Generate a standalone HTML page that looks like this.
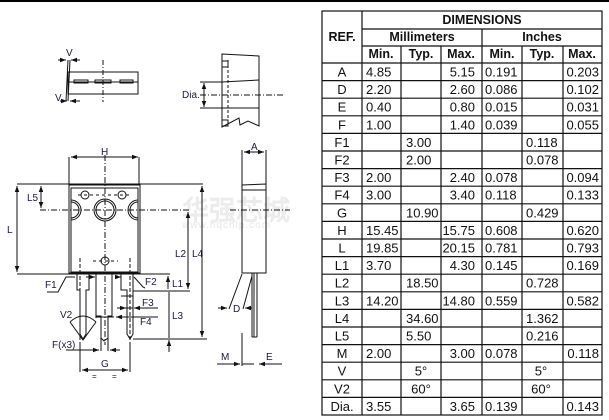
<!DOCTYPE html>
<html><head><meta charset="utf-8"><style>
html,body{margin:0;padding:0;background:#fff;}
svg{display:block}
text{font-family:"Liberation Sans",Arial,sans-serif;}
</style></head><body>
<svg width="609" height="420" viewBox="0 0 609 420" xmlns="http://www.w3.org/2000/svg">
<rect x="0" y="0" width="609" height="2" fill="#000"/>
<defs>
<marker id="ar" viewBox="0 0 8 6" refX="8" refY="3" markerWidth="6" markerHeight="5" orient="auto-start-reverse"><path d="M0,0 L8,3 L0,6 z" fill="#111"/></marker>
</defs>
<!-- watermark -->
<text x="182" y="220" font-size="27" font-weight="bold" fill="#ececec" font-family="'Noto Sans CJK SC',sans-serif">华强芯城</text>
<text x="182" y="228" font-size="10" fill="#e6e6e6" letter-spacing="1">www.hqchip.com</text>

<g stroke="#111" fill="none" stroke-width="1">
<!-- top-left lead frame view -->
<path d="M68,72 L138,72 L138,94 L68,94 Z"/>
<line x1="68" y1="82" x2="138" y2="82"/>
<rect x="74" y="80" width="14" height="3"/><rect x="95" y="80" width="16" height="3"/><rect x="120" y="80" width="13" height="3"/>
<line x1="68" y1="60" x2="66" y2="101"/><line x1="70" y1="60" x2="68" y2="101"/>
<line x1="103" y1="60" x2="103" y2="102" stroke-dasharray="5,2,1,2"/>
<line x1="58" y1="60" x2="66" y2="60" marker-end="url(#ar)"/><line x1="80" y1="60" x2="71" y2="60" marker-end="url(#ar)"/>
<line x1="60" y1="101" x2="67" y2="101" marker-end="url(#ar)"/><line x1="80" y1="101" x2="70" y2="101" marker-end="url(#ar)"/>
<!-- Dia view -->
<path d="M222,54 L259,56 L259,126 L248,121 L240,125 L239,118 L222,127 Z"/>
<line x1="222" y1="82" x2="259" y2="80"/><line x1="222" y1="108" x2="259" y2="108"/>
<line x1="228" y1="60" x2="228" y2="122" stroke-dasharray="3,2"/>
<rect x="222" y="61" width="6" height="6"/><rect x="222" y="120" width="6" height="6"/>
<line x1="200" y1="95" x2="283" y2="95" stroke-dasharray="6,2,1,2"/>
<line x1="200" y1="82" x2="222" y2="82"/><line x1="200" y1="108" x2="222" y2="108"/>
<line x1="204" y1="95" x2="204" y2="83" marker-end="url(#ar)"/><line x1="204" y1="95" x2="204" y2="107" marker-end="url(#ar)"/>
<!-- front body -->
<rect x="69" y="185" width="71" height="88"/>
<rect x="71" y="188" width="67" height="84"/>
<line x1="69" y1="157" x2="69" y2="185"/><line x1="139" y1="157" x2="139" y2="185"/>
<line x1="71" y1="157" x2="138" y2="157" marker-start="url(#ar)" marker-end="url(#ar)"/>
<line x1="17" y1="184" x2="203" y2="184"/>
<line x1="105" y1="155" x2="105" y2="345" stroke-dasharray="6,2,1,2"/>
<line x1="40" y1="210" x2="190" y2="210" stroke-dasharray="6,2,1,2"/>
<circle cx="105" cy="210" r="11"/><circle cx="105" cy="210" r="9"/>
<path d="M71,200 A10,10 0 0 1 71,220"/><path d="M71,202 A8,8 0 0 1 71,218"/>
<path d="M138,200 A10,10 0 0 0 138,220"/><path d="M138,202 A8,8 0 0 0 138,218"/>
<circle cx="85" cy="195" r="4"/><circle cx="122" cy="195" r="4"/><circle cx="105" cy="261" r="4"/>
<line x1="78" y1="195" x2="130" y2="195" stroke-dasharray="3,3"/>
<line x1="93" y1="261" x2="118" y2="261" stroke-dasharray="3,3"/>
<line x1="80" y1="258" x2="80" y2="340" stroke-dasharray="4,2"/><line x1="130" y1="258" x2="130" y2="340" stroke-dasharray="4,2"/>
<!-- L, L5 -->
<line x1="17" y1="186" x2="17" y2="272" marker-start="url(#ar)" marker-end="url(#ar)"/>
<line x1="17" y1="274" x2="170" y2="274"/>
<line x1="41" y1="186" x2="41" y2="208" marker-start="url(#ar)" marker-end="url(#ar)"/>
<!-- leads -->
<path d="M77,274 V290 H80 V334 L83,339 L86,334 V290 H89 V274"/>
<path d="M96,274 V316 H101 V338 L104,341 L108,338 V316 H112 V274"/>
<path d="M121,274 V290 H127 V334 L130,339 L133,334 V274"/>
<line x1="96" y1="274" x2="96" y2="318"/>
<line x1="121" y1="296" x2="133" y2="296"/><line x1="121" y1="308" x2="133" y2="308"/>
<line x1="101" y1="316" x2="101" y2="351"/><line x1="108" y1="316" x2="108" y2="351"/>
<!-- F1 F2 -->
<path d="M47,292 L58,292 L66,277 L75,277"/>
<line x1="86" y1="277" x2="95" y2="277" marker-end="url(#ar)"/>
<line x1="116" y1="277" x2="121" y2="277" marker-end="url(#ar)"/>
<path d="M134,277 L143,287 L145,288"/>
<!-- F3 F4 -->
<line x1="117" y1="308" x2="126" y2="308" marker-end="url(#ar)"/><line x1="158" y1="308" x2="134" y2="308" marker-end="url(#ar)"/>
<line x1="158" y1="317" x2="116" y2="317" marker-end="url(#ar)"/>
<line x1="96" y1="317" x2="114" y2="317"/>
<!-- V2 -->
<path d="M70,322 Q83,310 96,322"/>
<path d="M70,322 L83,340 L96,322"/>
<!-- F(x3) -->
<line x1="66" y1="350" x2="99" y2="350" marker-end="url(#ar)"/><line x1="120" y1="350" x2="110" y2="350" marker-end="url(#ar)"/>
<!-- G -->
<line x1="80" y1="342" x2="80" y2="372"/><line x1="130" y1="342" x2="130" y2="372"/>
<line x1="82" y1="370" x2="128" y2="370" marker-start="url(#ar)" marker-end="url(#ar)"/>
<!-- L1 L2 L3 L4 -->
<line x1="168" y1="276" x2="168" y2="289" marker-start="url(#ar)"/>
<line x1="168" y1="280" x2="168" y2="278"/>
<line x1="133" y1="291" x2="190" y2="291"/>
<line x1="169" y1="292" x2="169" y2="338"/>
<line x1="169" y1="352" x2="169" y2="340" marker-end="url(#ar)"/>
<line x1="133" y1="339" x2="207" y2="339"/>
<line x1="188" y1="212" x2="188" y2="289" marker-start="url(#ar)" marker-end="url(#ar)"/>
<line x1="202" y1="186" x2="202" y2="337" marker-start="url(#ar)" marker-end="url(#ar)"/>
<!-- side view -->
<path d="M242,185 L266,184 L266,273 L242,273 Z"/>
<line x1="242" y1="150" x2="242" y2="273"/><line x1="266" y1="150" x2="266" y2="184"/>
<line x1="244" y1="152" x2="264" y2="152" marker-start="url(#ar)" marker-end="url(#ar)"/>
<line x1="242" y1="190" x2="266" y2="190"/>
<line x1="230" y1="210" x2="290" y2="210" stroke-dasharray="6,2,1,2"/>
<line x1="252" y1="273" x2="252" y2="337"/><line x1="257" y1="273" x2="257" y2="337"/>
<line x1="254" y1="273" x2="254" y2="337"/>
<line x1="252" y1="337" x2="257" y2="337"/>
<line x1="242" y1="274" x2="229" y2="309"/><line x1="252" y1="276" x2="243" y2="309"/>
<line x1="218" y1="308" x2="227" y2="308" marker-end="url(#ar)"/><line x1="252" y1="308" x2="245" y2="308" marker-end="url(#ar)"/>
<line x1="242" y1="333" x2="242" y2="366"/>
<line x1="217" y1="364" x2="240" y2="364" marker-end="url(#ar)"/>
<line x1="242" y1="364" x2="254" y2="364"/>
<line x1="282" y1="364" x2="259" y2="364" marker-end="url(#ar)"/>
</g>
<g font-size="10" fill="#1a1a3a">
<text x="66" y="56">V</text><text x="55" y="101">V</text>
<text x="182" y="98">Dia.</text>
<text x="101" y="155">H</text>
<text x="27" y="201">L5</text>
<text x="7" y="233">L</text>
<text x="45" y="288">F1</text><text x="145" y="285">F2</text>
<text x="142" y="306">F3</text><text x="140" y="325">F4</text>
<text x="60" y="318">V2</text>
<text x="52" y="348">F(x3)</text>
<text x="101" y="367">G</text>
<text x="92" y="379" font-size="8">=</text><text x="112" y="379" font-size="8">=</text>
<text x="172" y="287">L1</text>
<text x="175" y="257">L2</text><text x="192" y="257">L4</text>
<text x="172" y="319">L3</text>
<text x="251" y="150">A</text>
<text x="233" y="312">D</text>
<text x="221" y="360">M</text><text x="266" y="360">E</text>
</g>

<!-- table -->
<g stroke="#111" stroke-width="1.2" fill="none">
<rect x="322" y="11" width="280" height="404"/>
<line x1="362" y1="11" x2="362" y2="415"/>
<line x1="362" y1="29" x2="602" y2="29"/>
<line x1="482" y1="29" x2="482" y2="415"/>
<line x1="362" y1="46" x2="602" y2="46"/>
<line x1="322" y1="63" x2="602" y2="63"/>
<line x1="401" y1="46" x2="401" y2="415"/><line x1="441" y1="46" x2="441" y2="415"/>
<line x1="522" y1="46" x2="522" y2="415"/><line x1="563" y1="46" x2="563" y2="415"/>
<g id="rl"></g>
</g>
<g font-size="12.5" font-weight="bold" fill="#111" text-anchor="middle">
<text x="482" y="24">DIMENSIONS</text>
<text x="342" y="41">REF.</text><text x="422" y="41">Millimeters</text><text x="542" y="41">Inches</text>
<text x="381" y="58">Min.</text><text x="421" y="58">Typ.</text><text x="461" y="58">Max.</text>
<text x="502" y="58">Min.</text><text x="542" y="58">Typ.</text><text x="582" y="58">Max.</text>
</g>
<g id="tb" font-size="13" fill="#111"></g>
</svg>
<script>
var rows=[["A","4.85","","5.15","0.191","","0.203"],["D","2.20","","2.60","0.086","","0.102"],["E","0.40","","0.80","0.015","","0.031"],["F","1.00","","1.40","0.039","","0.055"],["F1","","3.00","","","0.118",""],["F2","","2.00","","","0.078",""],["F3","2.00","","2.40","0.078","","0.094"],["F4","3.00","","3.40","0.118","","0.133"],["G","","10.90","","","0.429",""],["H","15.45","","15.75","0.608","","0.620"],["L","19.85","","20.15","0.781","","0.793"],["L1","3.70","","4.30","0.145","","0.169"],["L2","","18.50","","","0.728",""],["L3","14.20","","14.80","0.559","","0.582"],["L4","","34.60","","","1.362",""],["L5","","5.50","","","0.216",""],["M","2.00","","3.00","0.078","","0.118"],["V","","5°","","","5°",""],["V2","","60°","","","60°",""],["Dia.","3.55","","3.65","0.139","","0.143"]];
var ns="http://www.w3.org/2000/svg",tb=document.getElementById("tb"),rl=document.getElementById("rl");
function t(x,y,s,a){var e=document.createElementNS(ns,"text");e.setAttribute("x",x);e.setAttribute("y",y);if(a)e.setAttribute("text-anchor",a);e.textContent=s;tb.appendChild(e);}
var h=17.6;
rows.forEach(function(r,i){var top=63+i*h,y=top+13.5;
 if(i>0){var l=document.createElementNS(ns,"line");l.setAttribute("x1",322);l.setAttribute("x2",602);l.setAttribute("y1",top);l.setAttribute("y2",top);rl.appendChild(l);}
 t(342,y,r[0],"middle");
 if(r[1])t(366,y,r[1]);
 if(r[2])t(r[2].indexOf("°")>=0?421:406,y,r[2],r[2].indexOf("°")>=0?"middle":null);
 if(r[3])t(475,y,r[3],"end");
 if(r[4])t(485,y,r[4]);
 if(r[5])t(r[5].indexOf("°")>=0?541:526,y,r[5],r[5].indexOf("°")>=0?"middle":null);
 if(r[6])t(599,y,r[6],"end");
});
</script>
</body></html>
